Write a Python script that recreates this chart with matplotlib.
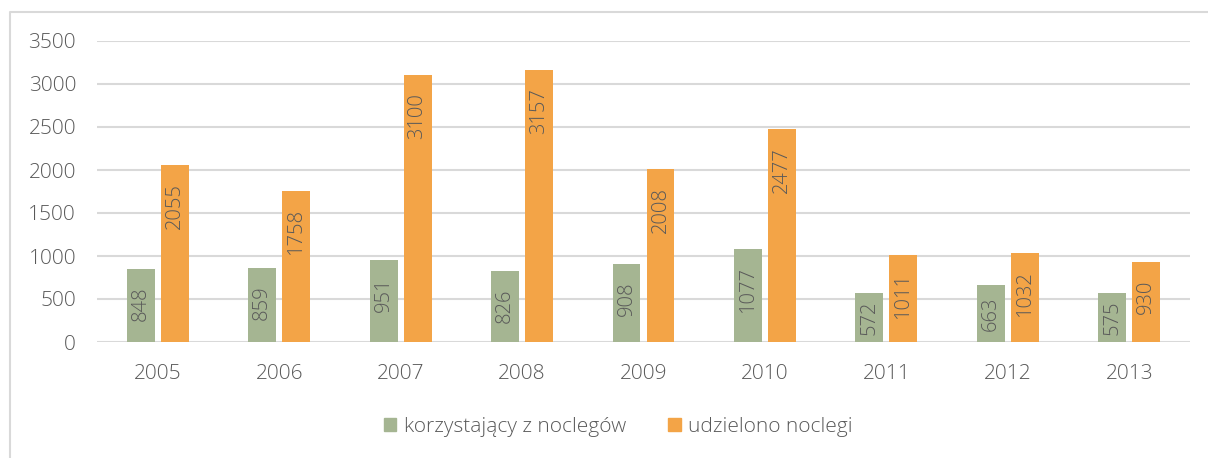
import numpy as np
import matplotlib
matplotlib.use("Agg")
from matplotlib import pyplot as plt
from matplotlib.lines import Line2D
from matplotlib.patches import Patch

years = ['2005', '2006', '2007', '2008', '2009', '2010', '2011', '2012', '2013']
korzystajacy = [848, 859, 951, 826, 908, 1077, 572, 663, 575]
udzielono = [2055, 1758, 3100, 3157, 2008, 2477, 1011, 1032, 930]

green = '#A5B592'
orange = '#F3A447'
grid_col = '#D9D9D9'
text_col = '#595959'

W, H = 1208, 458
plt.rcParams['font.family'] = ['Open Sans', 'DejaVu Sans']
plt.rcParams['font.weight'] = 'light'

fig = plt.figure(figsize=(W / 100, H / 100), dpi=100)
ax = fig.add_axes([97 / W, (H - 342) / H, (1190 - 97) / W, (342 - 41) / H])

x = np.arange(len(years))
bw = 0.23
off = 0.14
ax.bar(x - off, korzystajacy, bw, color=green, zorder=3)
ax.bar(x + off, udzielono, bw, color=orange, zorder=3)

ax.set_xlim(-0.5, len(years) - 0.5)
ax.set_ylim(0, 3500)
ax.set_yticks(range(0, 3501, 500))
ax.set_xticks(x)
ax.set_xticklabels(years)
ax.grid(axis='y', color=grid_col, linewidth=1.5, zorder=0)
for s in ax.spines.values():
    s.set_visible(False)
ax.tick_params(axis='both', length=0, labelsize=15, colors=text_col)
ax.tick_params(axis='x', pad=16)
ax.tick_params(axis='y', pad=15)

# data labels, rotated, "inside end" or centred when the bar is short
px = 3500 / 301.0
pad = 17 * px
for xs, vals in ((x - off, korzystajacy), (x + off, udzielono)):
    for xi, v in zip(xs, vals):
        L = (12 * len(str(v))) * px
        yc = max(v / 2, v - pad - L / 2)
        ax.text(xi, yc, str(v), rotation=90, ha='center', va='center',
                fontsize=14.5, color=text_col, zorder=4)

handles = [Patch(color=green, label='korzystający z noclegów'),
           Patch(color=orange, label='udzielono noclegi')]
fig.legend(handles=handles, loc='center', bbox_to_anchor=(618 / W, (H - 427) / H),
           ncol=2, frameon=False, fontsize=15, labelcolor=text_col,
           handlelength=0.62, handleheight=0.62, handletextpad=0.35, columnspacing=2.0)

# outer chart frame (left and top edges visible)
fig.add_artist(Line2D([9.5 / W, 9.5 / W, 1.0], [0.0, (H - 11.5) / H, (H - 11.5) / H],
                      transform=fig.transFigure, color=grid_col, linewidth=1.5))

fig.savefig('out.png', dpi=100)
